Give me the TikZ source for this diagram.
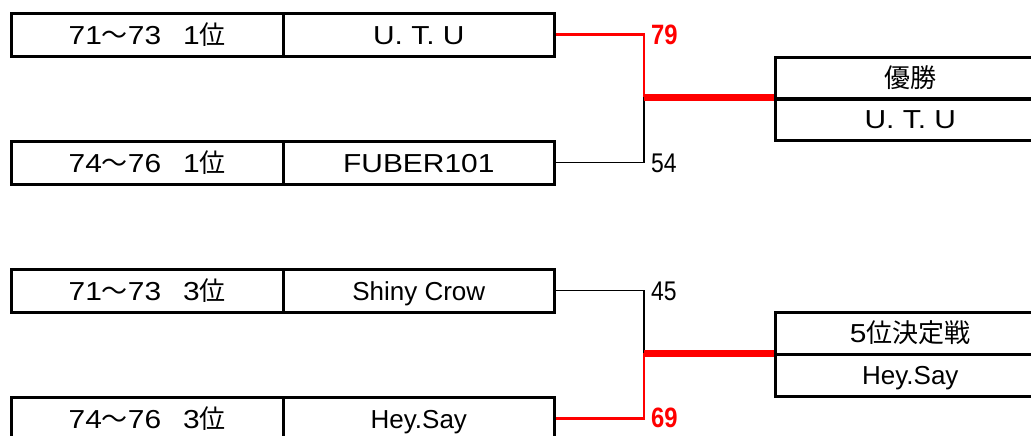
\documentclass[tikz,border=0pt]{standalone}
\usepackage{fontspec}
\setmainfont{Liberation Sans}
\newfontfamily\jp{Noto Sans CJK JP}
\newfontfamily\wide[FakeStretch=1.15]{Liberation Sans}
\newfontfamily\narrow[FakeStretch=0.85]{Liberation Sans}
\begin{document}
\begin{tikzpicture}[x=1pt,y=-1pt,
  cell/.style={draw=black,line width=2.6pt,minimum height=43pt,text height=18.6pt,text depth=0pt,inner sep=0pt,anchor=north west,font=\fontsize{26}{28}\selectfont},
  wcell/.style={cell,minimum height=42pt,minimum width=270pt},
  thin/.style={draw=black,line width=1.3pt},
  win/.style={draw=red,line width=2.7pt},
  final/.style={draw=red,line width=7pt},
  score/.style={anchor=base west,inner sep=0pt,font=\narrow\fontsize{27}{28}\selectfont},
  wscore/.style={score,text=red,font=\narrow\bfseries\fontsize{28}{28}\selectfont}]
\useasboundingbox (0,0) rectangle (1031,436);
\fill[white] (0,0) rectangle (1031,436);
% first bracket
\node[cell,minimum width=272pt] (a1) at (10,12) {\wide 71{\jp ～}73\hspace{22pt}1{\jp 位}};
\node[cell,minimum width=271pt] (a2) at (282,12) {\wide U.\ T.\ U};
\node[cell,minimum width=272pt] (b1) at (10,140) {\wide 74{\jp ～}76\hspace{22pt}1{\jp 位}};
\node[cell,minimum width=271pt] (b2) at (282,140) {\wide FUBER101};
\node[wcell] (w1) at (774,56) {\jp 優勝};
\node[wcell] (w2) at (774,97) {\wide U.\ T.\ U};
\coordinate (j1) at (644,97);
\draw[thin] (b2.east) -| (j1);
\draw[win] (a2.east) -| (j1);
\draw[final] (j1) -- (j1 -| w1.west);
\node[wscore] (s1) at (651,45) {79};
\node[score] (s2) at (651,172) {54};
% second bracket
\node[cell,minimum width=272pt] (c1) at (10,268) {\wide 71{\jp ～}73\hspace{22pt}3{\jp 位}};
\node[cell,minimum width=271pt] (c2) at (282,268) {Shiny Crow};
\node[cell,minimum width=272pt] (d1) at (10,396) {\wide 74{\jp ～}76\hspace{22pt}3{\jp 位}};
\node[cell,minimum width=271pt] (d2) at (282,396) {Hey.Say};
\node[wcell] (v1) at (774,311) {\wide 5{\jp 位決定戦}};
\node[wcell] (v2) at (774,353) {Hey.Say};
\coordinate (j2) at (644,353);
\draw[thin] (c2.east) -| (j2);
\draw[win] (d2.east) -| (j2);
\draw[final] (j2) -- (j2 -| v1.west);
\node[score] (s3) at (651,300) {45};
\node[wscore] (s4) at (651,427) {69};
\end{tikzpicture}
\end{document}
